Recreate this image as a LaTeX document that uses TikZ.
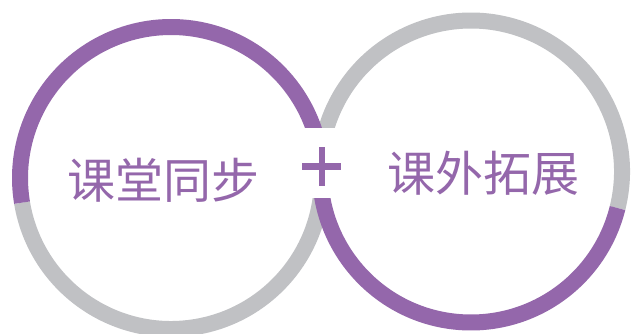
\documentclass[tikz,border=0pt]{standalone}
\usepackage{fontspec}
\newfontfamily\cjk{Noto Sans CJK SC}
\definecolor{ringpurple}{HTML}{9467AB}
\definecolor{ringgray}{HTML}{C0C1C4}
\begin{document}
\begin{tikzpicture}[x=1pt,y=1pt,
  ringarc/.style={line width=16pt},
  label/.style={inner sep=0pt, text=ringpurple, font=\cjk\fontsize{48}{48}\selectfont}]
\useasboundingbox (0,0) rectangle (637,334);
\clip (0,0) rectangle (637,334);
\fill[white] (0,0) rectangle (637,334);
% centres
\coordinate (lc) at (171,156);
\coordinate (rc) at (471,162.5);
% grey parts
\draw[ringarc, ringgray] ([shift={(189.4:151)}]lc) arc[start angle=189.4, end angle=355, radius=151];
\draw[ringarc, ringgray] ([shift={(-14:151)}]rc) arc[start angle=-14, end angle=185, radius=151];
% purple parts
\draw[ringarc, ringpurple] ([shift={(-5:151)}]lc) arc[start angle=-5, end angle=189.4, radius=151];
\draw[ringarc, ringpurple] ([shift={(180:151)}]rc) arc[start angle=180, end angle=346, radius=151];
% white gap around the plus
\fill[white] (292,136) rectangle (350,206);
% plus sign
\fill[ringpurple] (302,164) rectangle (341,170.7);
\fill[ringpurple] (319,148) rectangle (325,187.3);
% texts
\node[label] (left) at (163,154) {课堂同步};
\node[label] (right) at (483.5,161) {课外拓展};
\end{tikzpicture}
\end{document}
